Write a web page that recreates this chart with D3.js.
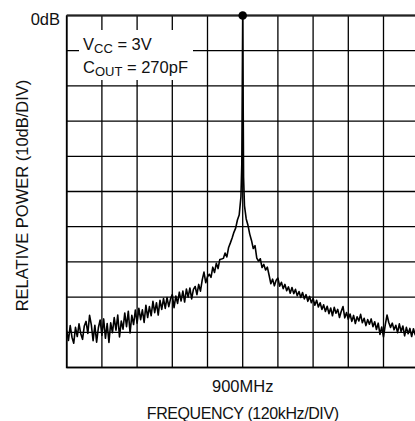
<!DOCTYPE html>
<html>
<head>
<meta charset="utf-8">
<script src="https://cdn.jsdelivr.net/npm/d3@7"></script>
<style>
  body { margin: 0; background: #fff; }
  svg { display: block; }
  text { font-family: "Liberation Sans", Arial, sans-serif; fill: #111; }
</style>
</head>
<body>
<svg width="415" height="421"></svg>
<script>
// spectrum trace, frequency offset from 900MHz in kHz and relative power in dB
let freqLeft = [
  -600,-594,-588,-582,-576,-570,-564,-558,-552,-546,-540,-534,-528,-522,-516,-510,-504,-498,-492,-486,
  -480,-474,-468,-462,-456,-450,-444,-438,-432,-426,-420,-414,-408,-402,-396,-390,-384,-378,-372,-366,
  -360,-354,-348,-342,-336,-330,-324,-318,-312,-306,-300,-294,-288,-282,-276,-270,-264,-258,-252,-246,
  -240,-234,-228,-222,-216,-210,-204,-198,-192,-186,-180,-174,-168,-162,-156,-150,-144,-138,-132,-126,
  -120,-114,-108,-102,-96,-90,-84,-78,-72,-66,-60,-54,-48,-42,-36,-30,-24,-18,-12
];
let powerLeft = [
  -89.5,-92.3,-88.1,-91.4,-93.1,-88.6,-91.2,-87.6,-90.4,-92.0,-88.2,-86.9,-90.3,-85.2,-87.9,-92.4,-88.0,-92.8,-88.7,-86.5,
  -90.9,-86.2,-91.7,-87.5,-92.9,-87.3,-90.1,-85.8,-89.4,-85.1,-91.3,-86.8,-89.1,-84.5,-88.4,-84.0,-90.2,-85.2,-87.8,-83.7,
  -87.4,-83.2,-86.4,-83.6,-87.2,-82.3,-85.8,-82.7,-85.3,-81.2,-84.4,-81.6,-85.1,-80.9,-83.5,-80.4,-83.2,-80.1,-82.7,-80.5,
  -79.3,-83.0,-79.7,-81.8,-78.6,-81.1,-78.3,-81.4,-77.7,-80.0,-77.4,-80.5,-77.8,-77.0,-79.3,-76.4,-78.3,-75.1,-72.9,-75.9,
  -74.2,-73.5,-74.4,-71.5,-73.0,-70.4,-71.9,-69.3,-69.2,-69.0,-67.5,-68.6,-65.9,-64.6,-63.2,-61.6,-60.4,-58.1,-56.7
];
let freqPeak  = [-6, -3, 0, 3, 6];
let powerPeak = [-51.5, -42, 0, -46, -54];
let freqRight = [
  12,18,24,30,36,42,48,54,60,66,72,78,84,90,96,102,108,114,120,126,
  132,138,144,150,156,162,168,174,180,186,192,198,204,210,216,222,228,234,240,246,
  252,258,264,270,276,282,288,294,300,306,312,318,324,330,336,342,348,354,360,366,
  372,378,384,390,396,402,408,414,420,426,432,438,444,450,456,462,468,474,480,486,
  492,498,504,510,516,522,528,534,540,546,552,558,564,570,576,582,588,594,600
];
let powerRight = [
  -57.8,-59.6,-62.1,-63.9,-66.2,-65.4,-68.9,-69.8,-69.1,-71.6,-70.7,-72.3,-71.5,-73.8,-76.2,-74.9,-76.8,-75.2,-74.6,-76.9,
  -75.8,-77.6,-76.4,-78.2,-77.1,-78.9,-77.3,-79.0,-77.8,-79.6,-78.4,-80.1,-78.7,-80.5,-79.3,-81.2,-79.8,-81.6,-80.4,-82.3,
  -80.9,-82.8,-81.6,-83.5,-82.2,-84.1,-82.6,-84.7,-83.1,-85.3,-82.9,-84.6,-83.5,-85.8,-84.0,-82.7,-85.9,-84.4,-86.3,-84.8,
  -86.9,-85.2,-87.5,-85.6,-86.8,-84.9,-87.3,-86.0,-88.1,-86.4,-87.7,-86.2,-88.4,-87.0,-89.2,-87.4,-90.6,-88.5,-91.3,-87.9,
  -85.1,-87.2,-88.6,-87.4,-89.3,-88.0,-90.1,-87.6,-89.8,-88.2,-91.0,-88.6,-90.4,-88.9,-91.2,-89.0,-90.7,-89.3,-90.5
];

// grid: 10 divisions each way, 120kHz/div and 10dB/div
let xTicks = [-600,-480,-360,-240,-120,0,120,240,360,480,600];
let yTicks = [0,-10,-20,-30,-40,-50,-60,-70,-80,-90,-100];

let mLeft = 66.7, mTop = 15.5, w = 352, h = 352;

let x = d3.scaleLinear().domain([-600, 600]).range([mLeft, mLeft + w]);
let y = d3.scaleLinear().domain([-100, 0]).range([mTop + h, mTop]);

let svg = d3.select("svg");

let trace = [];
freqLeft.forEach((f, i) => trace.push([f, powerLeft[i]]));
freqPeak.forEach((f, i) => trace.push([f, powerPeak[i]]));
freqRight.forEach((f, i) => trace.push([f, powerRight[i]]));

// grid lines
svg.append("g").selectAll("line")
  .data(xTicks)
  .join("line")
  .attr("x1", d => x(d)).attr("x2", d => x(d))
  .attr("y1", y(0)).attr("y2", y(-100))
  .attr("stroke", "#000")
  .attr("stroke-width", 1.3);

svg.append("g").selectAll("line")
  .data(yTicks)
  .join("line")
  .attr("x1", x(-600)).attr("x2", x(600))
  .attr("y1", d => y(d)).attr("y2", d => y(d))
  .attr("stroke", "#000")
  .attr("stroke-width", 1.3);

// left and bottom frame a bit heavier
svg.append("path")
  .attr("d", "M" + x(-600) + "," + y(0) + "V" + y(-100) + "H" + x(600))
  .attr("fill", "none")
  .attr("stroke", "#000")
  .attr("stroke-width", 1.7);

svg.append("line")
  .attr("x1", x(-600)).attr("x2", x(600))
  .attr("y1", y(0)).attr("y2", y(0))
  .attr("stroke", "#222")
  .attr("stroke-width", 1.8);

// white label box over the grid
svg.append("rect")
  .attr("x", 79).attr("y", 30)
  .attr("width", 114).attr("height", 50)
  .attr("fill", "#fff");

let line = d3.line().x(d => x(d[0])).y(d => y(d[1]));

svg.append("path")
  .datum(trace)
  .attr("d", line)
  .attr("fill", "none")
  .attr("stroke", "#000")
  .attr("stroke-width", 1.6)
  .attr("stroke-linejoin", "round");

svg.append("circle")
  .attr("cx", x(0)).attr("cy", y(0))
  .attr("r", 4.3)
  .attr("fill", "#000");

// labels
let t1 = svg.append("text").attr("x", 83).attr("y", 50).attr("font-size", 16.5);
t1.append("tspan").text("V");
t1.append("tspan").attr("dy", 3).attr("font-size", 13).text("CC");
t1.append("tspan").attr("dy", -3).text(" = 3V");

let t2 = svg.append("text").attr("x", 83).attr("y", 73).attr("font-size", 16.5);
t2.append("tspan").text("C");
t2.append("tspan").attr("dy", 3).attr("font-size", 13).text("OUT");
t2.append("tspan").attr("dy", -3).text(" = 270pF");

svg.append("text")
  .attr("x", 60).attr("y", 25)
  .attr("text-anchor", "end")
  .attr("font-size", 16.5)
  .text("0dB");

svg.append("text")
  .attr("x", x(0)).attr("y", 392)
  .attr("text-anchor", "middle")
  .attr("font-size", 16.5)
  .text("900MHz");

svg.append("text")
  .attr("x", x(0)).attr("y", 419)
  .attr("text-anchor", "middle")
  .attr("font-size", 16)
  .attr("letter-spacing", -0.4)
  .text("FREQUENCY (120kHz/DIV)");

svg.append("text")
  .attr("transform", "translate(27.5," + (mTop + h / 2 + 4) + ") rotate(-90)")
  .attr("text-anchor", "middle")
  .attr("font-size", 16.5)
  .text("RELATIVE POWER (10dB/DIV)");
</script>
</body>
</html>
